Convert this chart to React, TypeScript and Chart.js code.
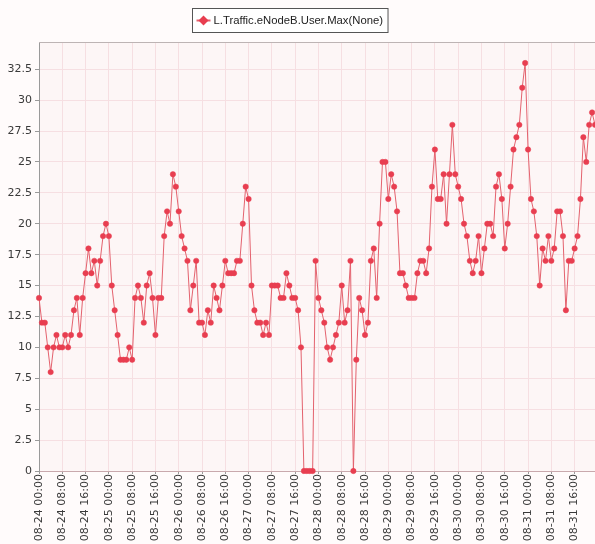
import React, { useEffect, useRef } from 'react';
import { Chart, registerables } from 'chart.js';

Chart.register(...registerables);

const seriesLabel = 'L.Traffic.eNodeB.User.Max(None)';

// one label every 8 hourly samples
const labelStep = 8;
const tickLabels = [
  '08-24 00:00', '08-24 08:00', '08-24 16:00',
  '08-25 00:00', '08-25 08:00', '08-25 16:00',
  '08-26 00:00', '08-26 08:00', '08-26 16:00',
  '08-27 00:00', '08-27 08:00', '08-27 16:00',
  '08-28 00:00', '08-28 08:00', '08-28 16:00',
  '08-29 00:00', '08-29 08:00', '08-29 16:00',
  '08-30 00:00', '08-30 08:00', '08-30 16:00',
  '08-31 00:00', '08-31 08:00', '08-31 16:00',
];

const yTicks = [0, 2.5, 5, 7.5, 10, 12.5, 15, 17.5, 20, 22.5, 25, 27.5, 30, 32.5];

// hourly values, 08-24 00:00 .. 08-31 23:00
const day24 = [14, 12, 12, 10, 8, 10, 11, 10, 10, 11, 10, 11, 13, 14, 11, 14, 16, 18, 16, 17, 15, 17, 19, 20];
const day25 = [19, 15, 13, 11, 9, 9, 9, 10, 9, 14, 15, 14, 12, 15, 16, 14, 11, 14, 14, 19, 21, 20, 24, 23];
const day26 = [21, 19, 18, 17, 13, 15, 17, 12, 12, 11, 13, 12, 15, 14, 13, 15, 17, 16, 16, 16, 17, 17, 20, 23];
const day27 = [22, 15, 13, 12, 12, 11, 12, 11, 15, 15, 15, 14, 14, 16, 15, 14, 14, 13, 10, 0, 0, 0, 0, 17];
const day28 = [14, 13, 12, 10, 9, 10, 11, 12, 15, 12, 13, 17, 0, 9, 14, 13, 11, 12, 17, 18, 14, 20, 25, 25];
const day29 = [22, 24, 23, 21, 16, 16, 15, 14, 14, 14, 16, 17, 17, 16, 18, 23, 26, 22, 22, 24, 20, 24, 28, 24];
const day30 = [23, 22, 20, 19, 17, 16, 17, 19, 16, 18, 20, 20, 19, 23, 24, 22, 18, 20, 23, 26, 27, 28, 31, 33];
const day31 = [26, 22, 21, 19, 15, 18, 17, 19, 17, 18, 21, 21, 19, 13, 17, 17, 18, 19, 22, 27, 25, 28, 29, 28];

const userMax = [...day24, ...day25, ...day26, ...day27, ...day28, ...day29, ...day30, ...day31];

const lineColor = 'rgb(228, 98, 110)';
const pointColor = 'rgb(232, 62, 80)';
const gridColor = '#f6dfe2';
const axisFont = '"DejaVu Sans", Verdana, sans-serif';

const bgPlugin = {
  id: 'bgPlugin',
  beforeDraw(chart: any) {
    const { ctx, chartArea, width, height } = chart;
    ctx.save();
    ctx.fillStyle = '#fffbfb';
    ctx.fillRect(0, 0, width, height);
    ctx.fillStyle = '#fdf6f6';
    ctx.fillRect(chartArea.left, chartArea.top, chartArea.right - chartArea.left, chartArea.bottom - chartArea.top);
    ctx.restore();
  },
  afterDraw(chart: any) {
    const { ctx, chartArea } = chart;
    ctx.save();
    ctx.strokeStyle = '#bdb4b4';
    ctx.lineWidth = 1;
    ctx.beginPath();
    ctx.moveTo(chartArea.left, chartArea.top + 0.5);
    ctx.lineTo(chartArea.right, chartArea.top + 0.5);
    ctx.stroke();

    // legend box
    const label = chart.data.datasets[0].label;
    ctx.font = '11.3px "Liberation Sans", Arial, sans-serif';
    const tw = ctx.measureText(label).width;
    const boxW = tw + 26;
    const boxH = 24;
    const bx = Math.round(290 - boxW / 2) + 0.5;
    const by = 8.5;
    ctx.fillStyle = '#ffffff';
    ctx.fillRect(bx, by, boxW, boxH);
    ctx.strokeStyle = '#555555';
    ctx.strokeRect(bx, by, boxW, boxH);
    const cy = by + boxH / 2;
    ctx.strokeStyle = lineColor;
    ctx.lineWidth = 2;
    ctx.beginPath();
    ctx.moveTo(bx + 4, cy);
    ctx.lineTo(bx + 18, cy);
    ctx.stroke();
    ctx.fillStyle = pointColor;
    ctx.beginPath();
    ctx.moveTo(bx + 11, cy - 5);
    ctx.lineTo(bx + 16, cy);
    ctx.lineTo(bx + 11, cy + 5);
    ctx.lineTo(bx + 6, cy);
    ctx.closePath();
    ctx.fill();
    ctx.fillStyle = '#222222';
    ctx.textBaseline = 'middle';
    ctx.textAlign = 'left';
    ctx.fillText(label, bx + 21, cy + 0.5);
    ctx.restore();
  },
};

export default function App() {
  const ref = useRef<HTMLCanvasElement | null>(null);

  useEffect(() => {
    if (!ref.current) return;
    const points = userMax.map((v, i) => ({ x: i, y: v }));
    const chart = new Chart(ref.current, {
      type: 'line',
      data: {
        datasets: [
          {
            label: seriesLabel,
            data: points,
            borderColor: lineColor,
            borderWidth: 1,
            backgroundColor: pointColor,
            pointBackgroundColor: pointColor,
            pointBorderColor: pointColor,
            pointRadius: 2.7,
            pointBorderWidth: 0.5,
            tension: 0,
            clip: false as any,
          },
        ],
      },
      options: {
        responsive: false,
        animation: false,
        layout: { autoPadding: false, padding: { top: 42, left: 0, right: 0, bottom: 0 } },
        plugins: {
          legend: { display: false },
          tooltip: { enabled: false },
        },
        scales: {
          x: {
            type: 'linear',
            min: 0,
            max: userMax.length - 1,
            afterBuildTicks: (axis: any) => {
              axis.ticks = tickLabels.map((_, i) => ({ value: i * labelStep }));
            },
            afterFit: (scale: any) => {
              scale.height = 73;
              scale.paddingLeft = 0;
              scale.paddingRight = 0;
            },
            ticks: {
              autoSkip: false,
              minRotation: 90,
              maxRotation: 90,
              padding: 0,
              color: '#3a3a3a',
              font: { family: axisFont, size: 11 },
              callback: (value: any) => tickLabels[Math.round(Number(value) / labelStep)] ?? '',
            },
            grid: {
              color: gridColor,
              tickColor: '#9a9a9a',
              tickLength: 3,
            },
            border: { color: '#c9a9ad' },
          },
          y: {
            type: 'linear',
            min: 0,
            max: 34.7,
            afterBuildTicks: (axis: any) => {
              axis.ticks = yTicks.map((v) => ({ value: v }));
            },
            afterFit: (scale: any) => {
              scale.width = 39;
            },
            ticks: {
              padding: 3,
              color: '#3a3a3a',
              font: { family: axisFont, size: 11 },
              callback: (value: any) => String(value),
            },
            grid: {
              color: gridColor,
              tickColor: '#9a9a9a',
              tickLength: 4,
            },
            border: { color: '#9a9a9a' },
          },
        },
      },
      plugins: [bgPlugin],
    });
    return () => chart.destroy();
  }, []);

  return (
    <div style={{ position: 'fixed', left: 0, top: 0, width: 595, height: 544, overflow: 'hidden' }}>
      <canvas ref={ref} width={595} height={544} style={{ display: 'block' }} />
    </div>
  );
}
